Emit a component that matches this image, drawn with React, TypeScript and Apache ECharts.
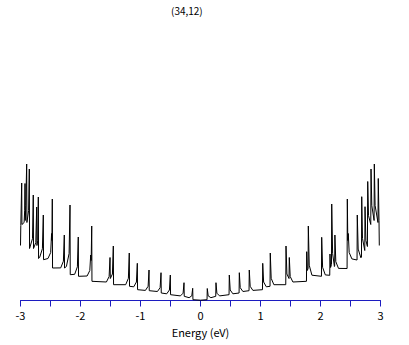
import React, { useEffect, useRef } from "react";
import * as echarts from "echarts";

// Density of states: [energy (eV), DOS (arb. units)]
const leftBranch: [number, number][] = [
  [-3.0, 55], [-2.995, 75], [-2.98, 117.5], [-2.976, 76],
  [-2.94, 78], [-2.93, 90], [-2.925, 117], [-2.921, 80],
  [-2.912, 95], [-2.897, 136.5], [-2.893, 78],
  [-2.865, 90], [-2.853, 131.5], [-2.849, 52],
  [-2.8, 62], [-2.787, 105.5], [-2.783, 52],
  [-2.745, 58], [-2.73, 93.5], [-2.726, 55],
  [-2.712, 60], [-2.703, 103.5], [-2.699, 42],
  [-2.68, 43.2], [-2.635, 51.8], [-2.62, 85.5], [-2.616, 40.8],
  [-2.542, 42], [-2.497, 48], [-2.482, 67], [-2.476, 60], [-2.47, 101.5], [-2.466, 32.5],
  [-2.33, 32.6], [-2.285, 39.3], [-2.27, 65.5], [-2.266, 32.5],
  [-2.235, 34], [-2.19, 47], [-2.175, 95.5], [-2.171, 25.8],
  [-2.097, 26.2], [-2.052, 33.7], [-2.037, 63.5], [-2.033, 24.2],
  [-1.89, 24.5], [-1.845, 30], [-1.83, 45.5], [-1.822, 40], [-1.813, 74.5], [-1.809, 19.2],
  [-1.568, 18.5], [-1.523, 24], [-1.508, 43], [-1.503, 22], [-1.468, 26.5], [-1.453, 54.5], [-1.449, 15.8],
  [-1.247, 15.8], [-1.202, 22.2], [-1.187, 47.5], [-1.183, 14.2],
  [-1.113, 13.7], [-1.068, 18.5], [-1.053, 37.2], [-1.049, 10.8],
  [-0.918, 10.1], [-0.873, 14.2], [-0.858, 30.5], [-0.854, 9.8],
  [-0.718, 9.0], [-0.673, 12.8], [-0.658, 27.8], [-0.654, 7.5],
  [-0.563, 6.7], [-0.518, 10.5], [-0.503, 25.5], [-0.499, 5.8],
  [-0.335, 4.6], [-0.29, 7.3], [-0.275, 17.8], [-0.271, 4.2],
  [-0.19, 2.8], [-0.145, 4.7], [-0.13, 12.2], [-0.126, 0.8],
];

const rightBranch: [number, number][] = [
  [0, 0.3],
  [0.109, 0.8], [0.113, 12], [0.128, 4.65], [0.173, 2.8],
  [0.254, 4.2], [0.258, 17.8], [0.273, 7.3], [0.318, 4.6],
  [0.476, 5.8], [0.48, 25.5], [0.495, 10.5], [0.54, 6.7],
  [0.643, 7.5], [0.647, 27.8], [0.662, 12.8], [0.707, 9.0],
  [0.809, 9.8], [0.813, 30.5], [0.828, 14.2], [0.873, 10.1],
  [1.033, 10.8], [1.037, 37.2], [1.052, 18.5], [1.097, 13.7],
  [1.159, 14.2], [1.163, 47.5], [1.178, 22.2], [1.223, 15.8],
  [1.421, 15.8], [1.425, 54.5], [1.44, 26.5], [1.475, 22], [1.48, 43], [1.495, 24], [1.54, 18.5],
  [1.766, 19.2], [1.77, 48.8], [1.78, 30], [1.793, 32], [1.797, 74.5], [1.812, 35.3], [1.857, 25.3],
  [2.016, 24.2], [2.02, 63.2], [2.035, 33.2], [2.08, 25.6],
  [2.154, 25.2], [2.158, 46.5], [2.168, 33], [2.183, 36], [2.187, 96.5], [2.202, 47], [2.232, 34],
  [2.236, 35], [2.24, 65.5], [2.255, 38.9], [2.3, 32.1],
  [2.443, 32], [2.447, 101.5], [2.455, 60], [2.463, 67], [2.478, 48], [2.523, 41.6],
  [2.609, 40.5], [2.613, 85.5], [2.628, 51.4], [2.673, 42.7],
  [2.683, 43.5], [2.687, 103.8], [2.7, 62], [2.738, 50], [2.742, 93.8], [2.757, 60], [2.782, 54],
  [2.787, 119], [2.8, 85], [2.838, 76], [2.842, 131.5], [2.855, 95], [2.893, 80],
  [2.897, 136.5], [2.91, 95], [2.958, 78], [2.963, 122], [2.975, 80], [2.98, 55],
];

const titleText = "(34,12)";
const xAxisName = "Energy (eV)";
const xMin = -3;
const xMax = 3;

export default function App() {
  const ref = useRef<HTMLDivElement>(null);
  useEffect(() => {
    if (!ref.current) return;
    const chart = echarts.init(ref.current, undefined, { renderer: "svg" });
    const font = "'Noto Sans CJK JP', 'Noto Sans', sans-serif";
    const blue = "#1c1cc0";
    chart.setOption({
      animation: false,
      backgroundColor: "#ffffff",
      title: {
        text: titleText,
        left: 166,
        top: 0,
        textStyle: { fontSize: 10, fontWeight: "normal", color: "#000", fontFamily: font },
      },
      grid: { left: 20.5, right: 28.5, top: 20.5, bottom: 44.5 },
      xAxis: {
        type: "value",
        min: xMin,
        max: xMax,
        interval: 0.5,
        name: xAxisName,
        nameLocation: "middle",
        nameGap: 26,
        nameTextStyle: { fontSize: 11, color: "#000", fontFamily: font },
        axisLine: { show: true, onZero: false, lineStyle: { color: blue, width: 1 } },
        axisTick: { show: true, length: 6, lineStyle: { color: blue, width: 1 } },
        axisLabel: {
          margin: 9,
          fontSize: 11,
          color: "#000",
          fontFamily: font,
          formatter: (v: number) => (Number.isInteger(v) ? String(v) : ""),
        },
        splitLine: { show: false },
      },
      yAxis: {
        type: "value",
        min: 0,
        max: 280,
        show: false,
        splitLine: { show: false },
      },
      series: [
        {
          type: "line",
          data: [...leftBranch, ...rightBranch],
          showSymbol: false,
          lineStyle: { color: "#000", width: 1 },
          z: 10,
        },
      ],
    });
    return () => chart.dispose();
  }, []);
  return (
    <div
      ref={ref}
      style={{ position: "absolute", left: 0, top: 0, width: 409, height: 345 }}
    />
  );
}
